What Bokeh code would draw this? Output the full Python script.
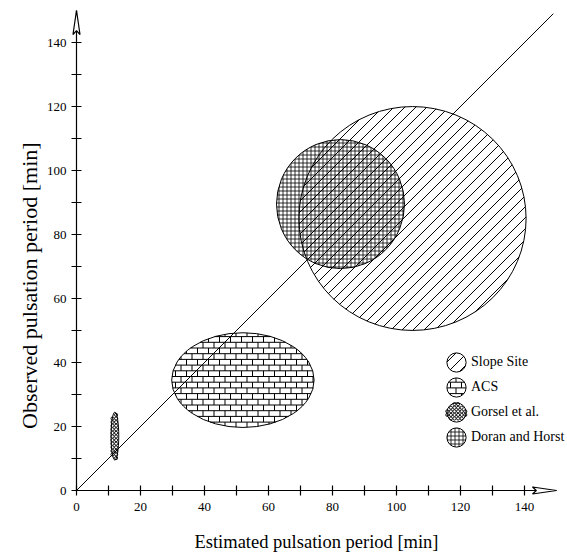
import math
from bokeh.plotting import figure
from bokeh.models import (Range1d, FixedTicker, Legend, LegendItem, PolyAnnotation,
                          Label, ColumnDataSource)
from bokeh.embed import file_html
from bokeh.resources import INLINE

# ---- data ----
names = ["Slope Site", "ACS", "Gorsel et al.", "Doran and Horst"]
est_center = [105.0, 52.0, 12.0, 82.5]     # estimated period, centre [min]
obs_center = [85.0, 34.5, 17.0, 89.5]      # observed period, centre [min]
est_extent = [71.0, 44.5, 2.4, 40.0]       # full width along x [min]
obs_extent = [70.0, 29.6, 15.0, 40.3]      # full height along y [min]

diag = [0, 149]                            # 1:1 reference line
major_ticks = [0, 20, 40, 60, 80, 100, 120, 140]
minor_ticks = [10, 30, 50, 70, 90, 110, 130]
AXIS_END = 150

# ---- layout / styles ----
FONT = "Liberation Serif"
W, H = 567, 552
X0, X1 = -23.75, 153.4375
Y0, Y1 = -19.375, 153.125
PX = W / (X1 - X0)                 # pixels per minute (same on both axes)
hatch_kind = ["diag", "brick", "ring", "cross"]

DIAG_STEP = 11 / PX                # spacing of the 45-degree lines
BRICK_ROW, BRICK_LEN = 5.7 / PX, 11 / PX
RING_STEP, RING_R = 3.6 / PX, 1.55 / PX


def diag_hatch(cx, cy, a, b):
    out = []
    A = 1 / a ** 2 + 1 / b ** 2
    k0 = math.floor((cy - cx - a - b) / DIAG_STEP)
    k1 = math.ceil((cy - cx + a + b) / DIAG_STEP)
    for k in range(k0, k1 + 1):
        c = k * DIAG_STEP
        d = c + cx - cy
        B = 2 * d / b ** 2
        C = d * d / b ** 2 - 1
        disc = B * B - 4 * A * C
        if disc <= 0:
            continue
        r = math.sqrt(disc)
        u1, u2 = (-B - r) / (2 * A), (-B + r) / (2 * A)
        out.append((cx + u1, cx + u1 + c, cx + u2, cx + u2 + c))
    return out


def brick_hatch(cx, cy, a, b):
    out = []
    k0 = math.floor((cy - b) / BRICK_ROW)
    k1 = math.ceil((cy + b) / BRICK_ROW)
    for k in range(k0, k1 + 1):
        y = k * BRICK_ROW
        t = (y - cy) / b
        if abs(t) < 1:
            half = a * math.sqrt(1 - t * t)
            out.append((cx - half, y, cx + half, y))
        lo_row, hi_row = y, y + BRICK_ROW
        off = (k % 2) * BRICK_LEN / 2
        j0 = math.floor((cx - a - off) / BRICK_LEN)
        j1 = math.ceil((cx + a - off) / BRICK_LEN)
        for j in range(j0, j1 + 1):
            x = j * BRICK_LEN + off
            s = (x - cx) / a
            if abs(s) >= 1:
                continue
            hy = b * math.sqrt(1 - s * s)
            lo, hi = max(lo_row, cy - hy), min(hi_row, cy + hy)
            if hi > lo:
                out.append((x, lo, x, hi))
    return out


def ring_hatch(cx, cy, a, b):
    pts = []
    i0, i1 = math.floor((cx - a) / RING_STEP), math.ceil((cx + a) / RING_STEP)
    j0, j1 = math.floor((cy - b) / RING_STEP), math.ceil((cy + b) / RING_STEP)
    for i in range(i0, i1 + 1):
        for j in range(j0, j1 + 1):
            x, y = i * RING_STEP, j * RING_STEP
            if ((x - cx) / a) ** 2 + ((y - cy) / b) ** 2 <= 1.0:
                pts.append((x, y))
    return pts


def draw_hatch(kind, cx, cy, a, b):
    if kind in ("diag", "brick"):
        segs = diag_hatch(cx, cy, a, b) if kind == "diag" else brick_hatch(cx, cy, a, b)
        if segs:
            x0, y0, x1, y1 = zip(*segs)
            p.segment(x0=list(x0), y0=list(y0), x1=list(x1), y1=list(y1),
                      line_color="black", line_width=1)
    elif kind == "ring":
        pts = ring_hatch(cx, cy, a, b)
        if pts:
            xs, ys = zip(*pts)
            p.circle(x=list(xs), y=list(ys), radius=RING_R, fill_color=None,
                     line_color="black", line_width=0.9)


# frame covers the whole canvas; axes are pinned at 0
p = figure(width=W, height=H, output_backend="svg", toolbar_location=None,
           title=None, x_range=Range1d(X0, X1), y_range=Range1d(Y0, Y1),
           min_border=0)
p.outline_line_color = None
p.xgrid.visible = False
p.ygrid.visible = False
p.background_fill_color = "white"
p.border_fill_color = "white"

for ax in (p.xaxis[0], p.yaxis[0]):
    ax.fixed_location = 0
    ax.bounds = (0, AXIS_END)
    ax.ticker = FixedTicker(ticks=major_ticks, minor_ticks=minor_ticks)
    ax.axis_line_width = 1.2
    ax.major_tick_line_width = 1.2
    ax.minor_tick_line_width = 1.2
    ax.major_tick_in = 5
    ax.major_tick_out = 5
    ax.minor_tick_in = 5
    ax.minor_tick_out = 5
    ax.major_label_text_font = FONT
    ax.major_label_text_font_size = "13px"
    ax.major_label_text_color = "black"
    ax.axis_label_text_font = FONT
    ax.axis_label_text_font_style = "normal"
    ax.axis_label_text_color = "black"

p.xaxis[0].major_label_standoff = 7
p.yaxis[0].major_label_standoff = 5
p.xaxis[0].axis_label = "Estimated pulsation period [min]"
p.xaxis[0].axis_label_text_font_size = "18.5px"
p.xaxis[0].axis_label_standoff = 18

ylab = Label(x=-14.7, y=64, text="Observed pulsation period [min]", angle=math.pi / 2,
             text_align="center", text_baseline="middle", text_font=FONT,
             text_font_size="22px", text_color="black")
p.add_layout(ylab)

# 1:1 line
p.line(diag, diag, line_color="black", line_width=1)

# legend layout (screen px) -> centres of the legend symbols in data units
LEG_LEFT, LEG_BOTTOM, GLYPH, SPACING = 444, 103, 24, 1
leg_top = H - LEG_BOTTOM - (len(names) * GLYPH + (len(names) - 1) * SPACING)
leg_r = 0.4 * GLYPH / PX

# hatched regions
legend_items = []
for i, name in enumerate(names):
    kind = hatch_kind[i]
    cx, cy = est_center[i], obs_center[i]
    a, b = est_extent[i] / 2, obs_extent[i] / 2
    draw_hatch(kind, cx, cy, a, b)
    src = ColumnDataSource(dict(x=[cx], y=[cy], w=[est_extent[i]], h=[obs_extent[i]]))
    hk = dict(hatch_pattern="cross", hatch_scale=4, hatch_weight=0.8,
              hatch_color="black") if kind == "cross" else {}
    p.ellipse(x="x", y="y", width="w", height="h", source=src,
              fill_color=None, line_color="black", line_width=1, **hk)

    # legend symbol (round) with the same hatch
    lx = X0 + (LEG_LEFT + GLYPH / 2) / PX
    ly = Y1 - (leg_top + GLYPH / 2 + i * (GLYPH + SPACING)) / PX
    draw_hatch(kind, lx, ly, leg_r, leg_r)
    proxy = p.ellipse(x=[float("nan")], y=[float("nan")], width=20, height=20,
                      width_units="screen", height_units="screen",
                      fill_color=None, line_color="black", line_width=1, **hk)
    legend_items.append(LegendItem(label=name, renderers=[proxy]))

legend = Legend(items=legend_items, location=(LEG_LEFT, LEG_BOTTOM), padding=0, margin=0,
                border_line_color=None, background_fill_alpha=0,
                spacing=SPACING, glyph_width=GLYPH, glyph_height=GLYPH, label_height=GLYPH,
                label_standoff=3, label_text_font=FONT, label_text_font_size="14px",
                label_text_color="black")
p.add_layout(legend)

# arrow heads at the axis ends
HL, HN, HW = 7.5, 6.3, 1.1
p.add_layout(PolyAnnotation(
    xs=[AXIS_END, AXIS_END - HL, AXIS_END - HN, AXIS_END - HL],
    ys=[0, HW, 0, -HW], fill_color="white", fill_alpha=1,
    line_color="black", line_alpha=1, line_width=1.2))
p.add_layout(PolyAnnotation(
    xs=[0, HW, 0, -HW],
    ys=[AXIS_END, AXIS_END - HL, AXIS_END - HN, AXIS_END - HL],
    fill_color="white", fill_alpha=1, line_color="black", line_alpha=1, line_width=1.2))

open("out.html", "w").write(file_html(p, INLINE))
